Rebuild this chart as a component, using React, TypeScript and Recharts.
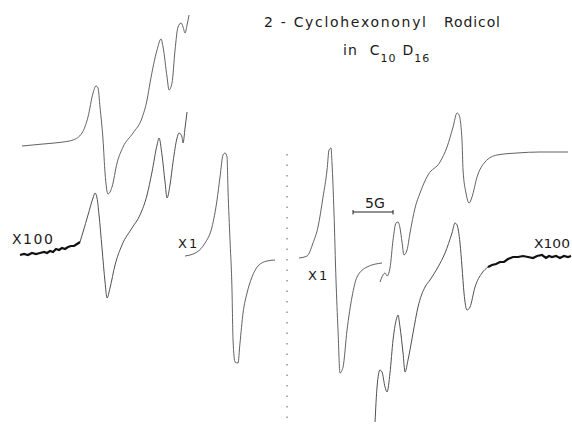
import React from "react";
import { ComposedChart, Line, XAxis, YAxis } from "recharts";

// EPR derivative spectra of the 2-cyclohexanonyl radical.
// Field in gauss (8 px per G on the page), signal in arbitrary units.
type Pt = [number, number];

const upperLeftTrace: Pt[] = [
  [2.75, 278], [5.38, 280], [7.88, 282], [9.13, 284], [10.25, 291], [11, 307],
  [11.63, 331], [12, 338], [12.25, 336], [12.5, 317], [12.88, 284], [13.13, 251],
  [13.5, 230], [14, 237], [14.63, 261], [15.38, 277], [16.63, 291], [17.75, 306],
  [18.38, 324], [18.75, 341], [19.63, 374], [20.13, 385], [20.38, 377], [20.88, 347],
  [21.13, 334], [21.5, 341], [21.88, 374], [22.25, 397], [22.63, 401], [22.88, 397],
  [23.13, 391], [23.38, 399], [23.63, 409],
];

const lowerLeftNoise: Pt[] = [
  [2.5, 169], [3, 170], [3.5, 169], [4, 171], [4.5, 170], [5, 171], [5.5, 172],
  [5.88, 171], [6.25, 173], [6.63, 172], [7, 175], [7.38, 174], [7.75, 176],
  [8.13, 175], [8.5, 177], [8.88, 178], [9.25, 178], [9.63, 180], [10, 182],
];

const lowerLeftTrace: Pt[] = [
  [10, 182], [10.38, 192], [11, 209], [11.63, 226], [11.88, 231], [12.13, 226],
  [12.38, 209], [12.75, 176], [13.13, 142], [13.38, 126], [13.75, 136], [14.38, 159],
  [15.25, 179], [16.5, 196], [17.5, 209], [18.38, 229], [19, 252], [19.63, 279],
  [19.88, 286], [20.25, 269], [20.63, 242], [20.88, 226], [21.25, 239], [21.63, 262],
  [22.13, 286], [22.38, 291], [22.75, 287], [22.88, 281], [23.13, 296], [23.38, 312],
];

const centerLeftTrace: Pt[] = [
  [23.13, 168], [24.63, 172], [25.63, 181], [26.5, 197], [27.13, 224], [27.5, 247],
  [27.88, 269], [28.13, 271], [28.38, 267], [28.5, 234], [28.75, 184], [29, 134],
  [29.13, 84], [29.38, 62], [29.75, 61], [30, 81], [30.38, 111], [30.88, 131],
  [31.5, 147], [32.25, 158], [33.38, 163], [34.38, 164],
];

const centerRightTrace: Pt[] = [
  [37.38, 166], [38.38, 168], [39.13, 181], [39.75, 197], [40.38, 227], [40.88, 254],
  [41.13, 274], [41.38, 276], [41.5, 261], [41.75, 211], [42, 144], [42.25, 94],
  [42.5, 51], [42.88, 57], [43.38, 94], [44, 127], [44.63, 147], [45.88, 157],
  [47.75, 161],
];

const upperRightTrace: Pt[] = [
  [47.5, 142], [47.88, 149], [48.13, 151], [48.38, 148], [48.75, 156], [49.13, 184],
  [49.5, 201], [49.75, 202], [50, 196], [50.25, 182], [50.5, 169], [50.88, 174],
  [51.25, 191], [51.88, 216], [52.5, 231], [53.5, 249], [55, 262], [55.88, 277],
  [56.63, 297], [57.13, 311], [57.38, 309], [57.75, 284], [57.88, 254], [58.25, 231],
  [58.63, 221], [59, 227], [59.63, 247], [60.63, 262], [62.13, 269], [64.63, 271],
  [67.5, 272], [71, 272],
];

const lowerRightTrace: Pt[] = [
  [46.88, 2], [47.13, 37], [47.5, 54], [47.75, 52], [48.13, 37], [48.38, 32],
  [48.75, 51], [49.13, 84], [49.63, 107], [49.75, 109], [50, 97], [50.38, 71],
  [50.63, 52], [51, 64], [51.63, 91], [52.25, 117], [53.13, 137], [53.75, 144],
  [54.75, 157], [55.63, 171], [56.5, 191], [56.88, 201], [57.13, 199], [57.5, 181],
  [57.75, 157], [58, 131], [58.38, 114], [58.75, 117], [59.38, 137], [60.25, 151],
  [61, 157],
];

const lowerRightNoise: Pt[] = [
  [61, 157], [61.5, 159], [62, 160], [62.5, 162], [63, 162], [63.5, 165],
  [64.13, 167], [64.75, 167], [65.38, 168], [66, 167], [66.63, 166], [67.13, 168],
  [67.75, 169], [68.25, 166], [68.63, 168], [69, 167], [69.5, 168], [70, 166],
  [70.5, 168], [71, 167], [71.38, 168],
];

// dotted divider between the two halves, and the 5 G field marker
const dividerLine: Pt[] = [[35.88, 6], [35.88, 274]];
const scaleBar: Pt[] = [[44.13, 212], [49.13, 212]];
const scaleTickLeft: Pt[] = [[44.13, 209.5], [44.13, 214]];
const scaleTickRight: Pt[] = [[49.13, 209.5], [49.13, 214]];

const FIELD_DOMAIN: [number, number] = [0, 71.5];
const SIGNAL_DOMAIN: [number, number] = [0, 424];

const pts = (p: Pt[]) => p.map(([x, y]) => ({ x, y }));

const W = 572;
const H = 424;
const INK = "#505050";
const FONT = "'DejaVu Sans', 'Liberation Sans', sans-serif";

export default function App() {
  const trace = (d: Pt[], key: string, width = 1, color = INK, type: "monotone" | "linear" = "monotone", dash?: string) => (
    <Line
      key={key}
      data={pts(d)}
      dataKey="y"
      type={type}
      stroke={color}
      strokeWidth={width}
      strokeDasharray={dash}
      dot={false}
      activeDot={false}
      isAnimationActive={false}
      legendType="none"
    />
  );

  return (
    <div style={{ position: "absolute", left: 0, top: 0, width: W, height: H, background: "#fff" }}>
      <ComposedChart width={W} height={H} margin={{ top: 0, right: 0, bottom: 0, left: 0 }}>
        <XAxis type="number" dataKey="x" domain={FIELD_DOMAIN} hide allowDataOverflow />
        <YAxis type="number" domain={SIGNAL_DOMAIN} hide allowDataOverflow />
        {trace(dividerLine, "divider", 1.2, "#777", "linear", "1.5 9")}
        {trace(upperLeftTrace, "ul", 0.9)}
        {trace(lowerLeftTrace, "ll", 1)}
        {trace(lowerLeftNoise, "lln", 2.2, "#111", "linear")}
        {trace(centerLeftTrace, "cl", 0.9)}
        {trace(centerRightTrace, "cr", 0.9)}
        {trace(upperRightTrace, "ur", 0.9)}
        {trace(lowerRightTrace, "lr", 1)}
        {trace(lowerRightNoise, "lrn", 2.2, "#111", "linear")}
        {trace(scaleBar, "bar", 1, "#222", "linear")}
        {trace(scaleTickLeft, "tl", 1, "#222", "linear")}
        {trace(scaleTickRight, "tr", 1, "#222", "linear")}
      </ComposedChart>
      <svg
        width={W}
        height={H}
        style={{ position: "absolute", left: 0, top: 0, pointerEvents: "none" }}
        fontFamily={FONT}
        fill="#1a1a1a"
      >
        <text x={264} y={27} fontSize={14} textLength={162} lengthAdjust="spacing">
          2 - Cyclohexononyl
        </text>
        <text x={444} y={27} fontSize={14} textLength={56} lengthAdjust="spacing">
          Rodicol
        </text>
        <text x={343} y={55} fontSize={14} letterSpacing={1}>
          in
          <tspan dx={12}>C</tspan>
          <tspan fontSize={11} dy={7}>10</tspan>
          <tspan dx={6} dy={-7}>D</tspan>
          <tspan fontSize={11} dy={7}>16</tspan>
        </text>
        <text x={12} y={244} fontSize={14} letterSpacing={1.5}>X100</text>
        <text x={178} y={248} fontSize={13} letterSpacing={2}>X1</text>
        <text x={308} y={280} fontSize={13} letterSpacing={2}>X1</text>
        <text x={534} y={248} fontSize={13} textLength={36} lengthAdjust="spacingAndGlyphs">X100</text>
        <text x={365} y={208} fontSize={14}>5G</text>
      </svg>
    </div>
  );
}
